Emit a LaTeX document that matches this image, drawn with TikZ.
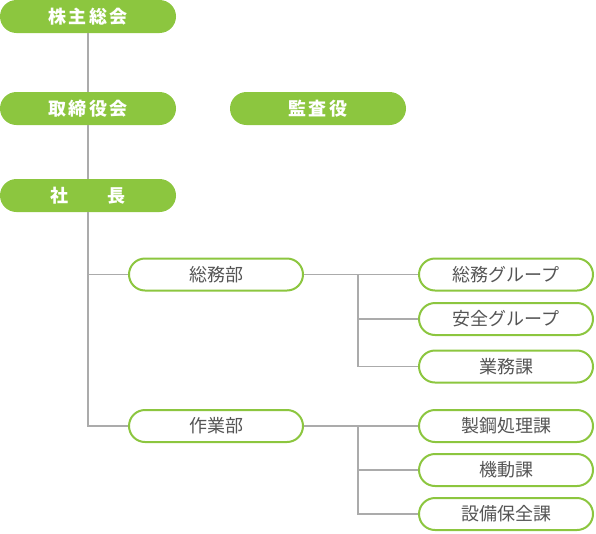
\documentclass[tikz,border=0pt]{standalone}
\usepackage{fontspec}
\setmainfont{Noto Sans CJK JP}
\definecolor{leaf}{HTML}{8CC63F}
\definecolor{wire}{HTML}{ABABAB}
\definecolor{ink}{HTML}{555555}

\begin{document}
\begin{tikzpicture}[x=1pt,y=-1pt]
\tikzset{
  head/.style={fill=leaf, rounded corners=16.5pt, minimum width=176pt, minimum height=33pt, inner sep=0pt,
    text=white, font=\fontsize{18}{20}\selectfont\bfseries\addfontfeature{LetterSpace=12}},
  unit/.style={draw=leaf, line width=2pt, fill=white, rounded corners=16pt, minimum width=174pt, minimum height=32pt, inner sep=0pt,
    text=ink, font=\fontsize{18}{20}\selectfont},
  link/.style={draw=wire, line width=1.5pt}
}
\useasboundingbox (0,0) rectangle (596,533);

%top of the company
\node[head] (meeting) at (88,16.5) {株主総会};
\node[head] (board) at (88,108.5) {取締役会};
\node[head] (audit) at (318,108.5) {監査役};
\node[head] (president) at (88,195.5) {社\hspace{2.2em}長};

%departments
\node[unit] (general) at (216,274.5) {総務部};
\node[unit] (works) at (216,426) {作業部};

%sections of general affairs
\node[unit] (g1) at (506,274.5) {総務グループ};
\node[unit] (g2) at (506,319) {安全グループ};
\node[unit] (g3) at (506,366.5) {業務課};

%sections of works
\node[unit] (w1) at (506,426) {製鋼処理課};
\node[unit] (w2) at (506,470) {機動課};
\node[unit] (w3) at (506,514) {設備保全課};

%forks
\coordinate (gfork) at (358,274.5);
\coordinate (wfork) at (358,426);

%lines
\draw[link] (meeting) -- (board);
\draw[link] (board) -- (president);
\draw[link] (president.south) |- (general.west);
\draw[link] (president.south) |- (works.west);

\draw[link] (general.east) -- (g1.west);
\draw[link] (gfork) |- (g2.west);
\draw[link] (gfork) |- (g3.west);

\draw[link] (works.east) -- (w1.west);
\draw[link] (wfork) |- (w2.west);
\draw[link] (wfork) |- (w3.west);

\end{tikzpicture}
\end{document}
